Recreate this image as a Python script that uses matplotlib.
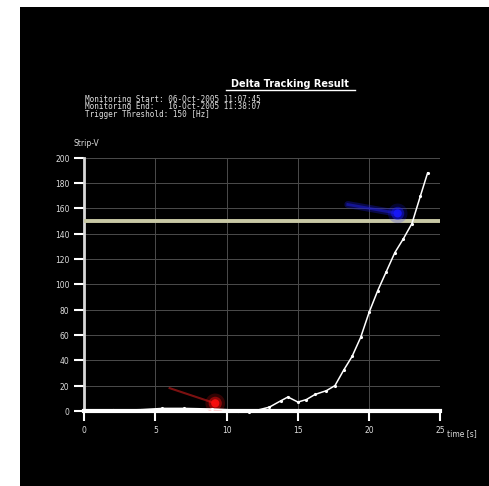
import matplotlib
matplotlib.use("Agg")
import matplotlib.pyplot as plt
from matplotlib.lines import Line2D
from matplotlib.patches import Rectangle

# delta tracking trace (time [s] vs Strip-V)
time_s = [0, 2, 4, 5.5, 7, 9, 10, 10.8, 11.6, 12.3, 13, 13.8, 14.3, 15.0, 15.6,
          16.2, 17.0, 17.6, 18.2, 18.8, 19.4, 20.0, 20.6, 21.2, 21.8, 22.4, 23.0,
          23.6, 24.1]
strip_v = [0, 0.5, 1, 2, 2, 1.5, 1, 0, -1, 1, 3, 8, 11, 7, 9,
           13, 16, 20, 32, 43, 58, 78, 95, 110, 125, 136, 148,
           170, 188]

threshold = 150

# start / end markers: tail point and head point
red_tail = (6.0, 18)
red_head = (9.2, 6)
blue_tail = (18.5, 163)
blue_head = (22.0, 156)

x_ticks = [0, 5, 10, 15, 20, 25]
y_ticks = [0, 20, 40, 60, 80, 100, 120, 140, 160, 180, 200]

header_lines = [
    "Monitoring Start: 06-Oct-2005 11:07:45",
    "Monitoring End:   16-Oct-2005 11:38:07",
    "Trigger Threshold: 150 [Hz]",
]

W, H = 489, 486
fig = plt.figure(figsize=((W + 0.5) / 100, (H + 0.5) / 100), dpi=100,
                 facecolor="black")

# white margin on the left and top
fig.add_artist(Rectangle((0, 0), 20 / W, 1, transform=fig.transFigure,
                         facecolor="white", edgecolor="none"))
fig.add_artist(Rectangle((0, 1 - 7 / H), 1, 7 / H, transform=fig.transFigure,
                         facecolor="white", edgecolor="none"))

ax = fig.add_axes([84 / W, 1 - 411 / H, (440 - 84) / W, (411 - 158) / H])
ax.set_facecolor("black")
ax.set_xlim(0, 25)
ax.set_ylim(0, 200)

ax.grid(True, color="#4c4c4c", linewidth=0.7, linestyle="-")
ax.set_axisbelow(True)

ax.axhline(threshold, color="#c9c9a6", linewidth=2.8, zorder=3)

# red marker
ax.plot([red_tail[0], red_head[0]], [red_tail[1], red_head[1]],
        color="#b01818", linewidth=1.5, alpha=0.7, zorder=4)
for s, a in [(200, 0.2), (90, 0.45), (35, 0.9)]:
    ax.scatter([red_head[0]], [red_head[1]], s=s, color="#ff1010", alpha=a,
               edgecolors="none", zorder=4)

# blue marker
ax.plot([blue_tail[0], blue_head[0]], [blue_tail[1], blue_head[1]],
        color="#1a1ad0", linewidth=5, alpha=0.35, zorder=4,
        solid_capstyle="round")
ax.plot([blue_tail[0], blue_head[0]], [blue_tail[1], blue_head[1]],
        color="#2020e0", linewidth=2, alpha=0.5, zorder=4)
for s, a in [(200, 0.2), (90, 0.45), (35, 0.85)]:
    ax.scatter([blue_head[0]], [blue_head[1]], s=s, color="#1818ff", alpha=a,
               edgecolors="none", zorder=4)

ax.plot(time_s, strip_v, color="white", linewidth=1.1, marker=".",
        markersize=2.5, zorder=5, clip_on=False)

ax.set_xticks(x_ticks)
ax.set_yticks(y_ticks)
ax.tick_params(colors="white", labelsize=5.5, length=7, width=1.5,
               direction="out")
for lab in ax.get_xticklabels() + ax.get_yticklabels():
    lab.set_color("#dddddd")

for name in ["top", "right"]:
    ax.spines[name].set_visible(False)
ax.spines["left"].set_color("#d8d8d8")
ax.spines["left"].set_linewidth(2)
ax.spines["bottom"].set_color("white")
ax.spines["bottom"].set_linewidth(3)

fig.text(73 / W, 1 - 143 / H, "Strip-V", color="#dddddd", fontsize=5.5,
         va="center", ha="left")
fig.text(447 / W, 1 - 433 / H, "time [s]", color="#dddddd", fontsize=5.5,
         va="center", ha="left")

fig.text(290 / W, 1 - 84 / H, "Delta Tracking Result", color="white",
         fontsize=7, fontweight="bold", ha="center", va="center")
fig.add_artist(Line2D([226 / W, 355 / W], [1 - 90 / H, 1 - 90 / H],
                      color="white", linewidth=1))

for i, line in enumerate(header_lines):
    fig.text(85 / W, 1 - (99 + 7.5 * i) / H, line, color="#e0e0e0",
             fontsize=5.5, family="DejaVu Sans Mono", ha="left", va="center")

fig.savefig("out.png", dpi=100, facecolor="black")
